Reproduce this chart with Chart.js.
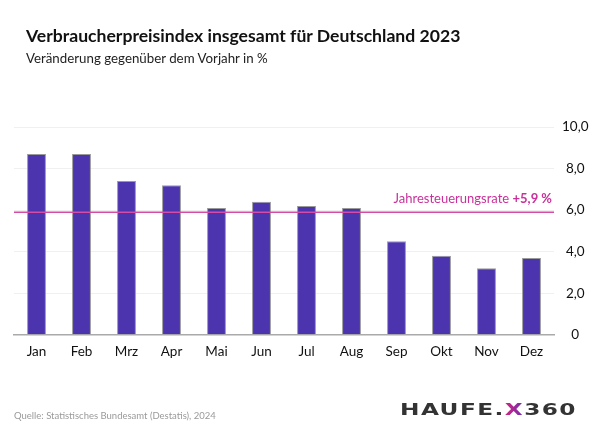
<!DOCTYPE html>
<html lang="de">
<head>
<meta charset="utf-8">
<script src="https://cdn.jsdelivr.net/npm/chart.js@4/dist/chart.umd.min.js"></script>
<style>
  html, body { margin: 0; padding: 0; background: #fff; }
  body { width: 600px; height: 435px; position: relative; overflow: hidden; font-family: Lato, "Open Sans", sans-serif; }
  #wrap { position: absolute; left: 0; top: 0; width: 600px; height: 435px; }
  .title { position: absolute; left: 26px; top: 25px; font-size: 17.6px; font-weight: 700; color: #111; white-space: nowrap; }
  .subtitle { position: absolute; left: 26px; top: 50px; font-size: 13.3px; color: #222; white-space: nowrap; }
  .source { position: absolute; left: 14px; top: 410px; font-size: 9.5px; color: #9a9a9a; white-space: nowrap; }
  .logo { position: absolute; left: 400px; top: 402px; font-family: "DejaVu Sans", sans-serif; font-weight: 700; font-size: 16px; letter-spacing: 1px; color: #333; white-space: nowrap; transform-origin: left top; line-height: 1; }
  .logo .x { background: linear-gradient(90deg, #d4237f, #6a2fb6); -webkit-background-clip: text; background-clip: text; color: transparent; }
</style>
</head>
<body>
<div id="wrap"><canvas id="cpiChart" width="600" height="435"></canvas></div>
<div class="title">Verbraucherpreisindex insgesamt für Deutschland 2023</div>
<div class="subtitle">Veränderung gegenüber dem Vorjahr in %</div>
<div class="source">Quelle: Statistisches Bundesamt (Destatis), 2024</div>
<div class="logo" id="logo">HAUFE.<span class="x">X</span>360</div>
<script>
  // monthly values, change vs previous year in %
  const months = ["Jan", "Feb", "Mrz", "Apr", "Mai", "Jun", "Jul", "Aug", "Sep", "Okt", "Nov", "Dez"];
  const cpiValues = [8.7, 8.7, 7.4, 7.2, 6.1, 6.4, 6.2, 6.1, 4.5, 3.8, 3.2, 3.7];
  const yearRate = 5.9;
  const yTicks = [0, 2, 4, 6, 8, 10];

  const fmt = (v) => (v === 0 ? "0" : v.toFixed(1).replace(".", ","));

  // stretch logo text to its box width
  const logo = document.getElementById("logo");
  logo.style.transform = "scaleX(" + (177 / logo.offsetWidth) + ")";

  // horizontal line for the annual rate + its label
  const rateLine = {
    id: "rateLine",
    afterDatasetsDraw(chart) {
      const { ctx, chartArea, scales } = chart;
      const y = scales.y.getPixelForValue(yearRate);
      ctx.save();
      ctx.strokeStyle = "#d64ba5";
      ctx.lineWidth = 1.5;
      ctx.beginPath();
      ctx.moveTo(chartArea.left, y);
      ctx.lineTo(chartArea.right, y);
      ctx.stroke();

      const normal = "Jahresteuerungsrate ";
      const bold = "+" + fmt(yearRate) + " %";
      ctx.fillStyle = "#c8319a";
      ctx.textBaseline = "alphabetic";
      ctx.font = "bold 13px Lato";
      const wb = ctx.measureText(bold).width;
      const xr = chartArea.right - 2;
      ctx.textAlign = "right";
      ctx.fillText(bold, xr, y - 9);
      ctx.font = "13px Lato";
      ctx.fillText(normal, xr - wb, y - 9);
      ctx.restore();
    },
  };

  const ctx = document.getElementById("cpiChart").getContext("2d");

  new Chart(ctx, {
    type: "bar",
    data: {
      labels: months,
      datasets: [
        {
          label: "VPI",
          data: cpiValues,
          backgroundColor: "#4b34ae",
          borderColor: "#9a9a9a",
          borderWidth: 1,
          barPercentage: 0.42,
          categoryPercentage: 1,
        },
      ],
    },
    options: {
      responsive: false,
      animation: false,
      layout: {
        padding: { left: 14, right: 0, top: 127, bottom: 66 },
      },
      plugins: {
        legend: { display: false },
        tooltip: { enabled: false },
      },
      scales: {
        x: {
          grid: { display: false, drawTicks: false },
          border: { color: "#aaaaaa", width: 1.5 },
          ticks: {
            color: "#111",
            padding: 9,
            font: { family: "Lato", size: 13.5 },
          },
        },
        y: {
          position: "right",
          min: 0,
          max: 10,
          afterBuildTicks: (axis) => {
            axis.ticks = yTicks.map((v) => ({ value: v }));
          },
          afterFit: (axis) => {
            axis.width = 46;
          },
          grid: { color: "#f0f0f0", drawTicks: false },
          border: { display: false },
          ticks: {
            color: "#111",
            padding: 8,
            crossAlign: "center",
            font: { family: "Lato", size: 13.5 },
            callback: (v) => fmt(v),
          },
        },
      },
    },
    plugins: [rateLine],
  });
</script>
</body>
</html>
